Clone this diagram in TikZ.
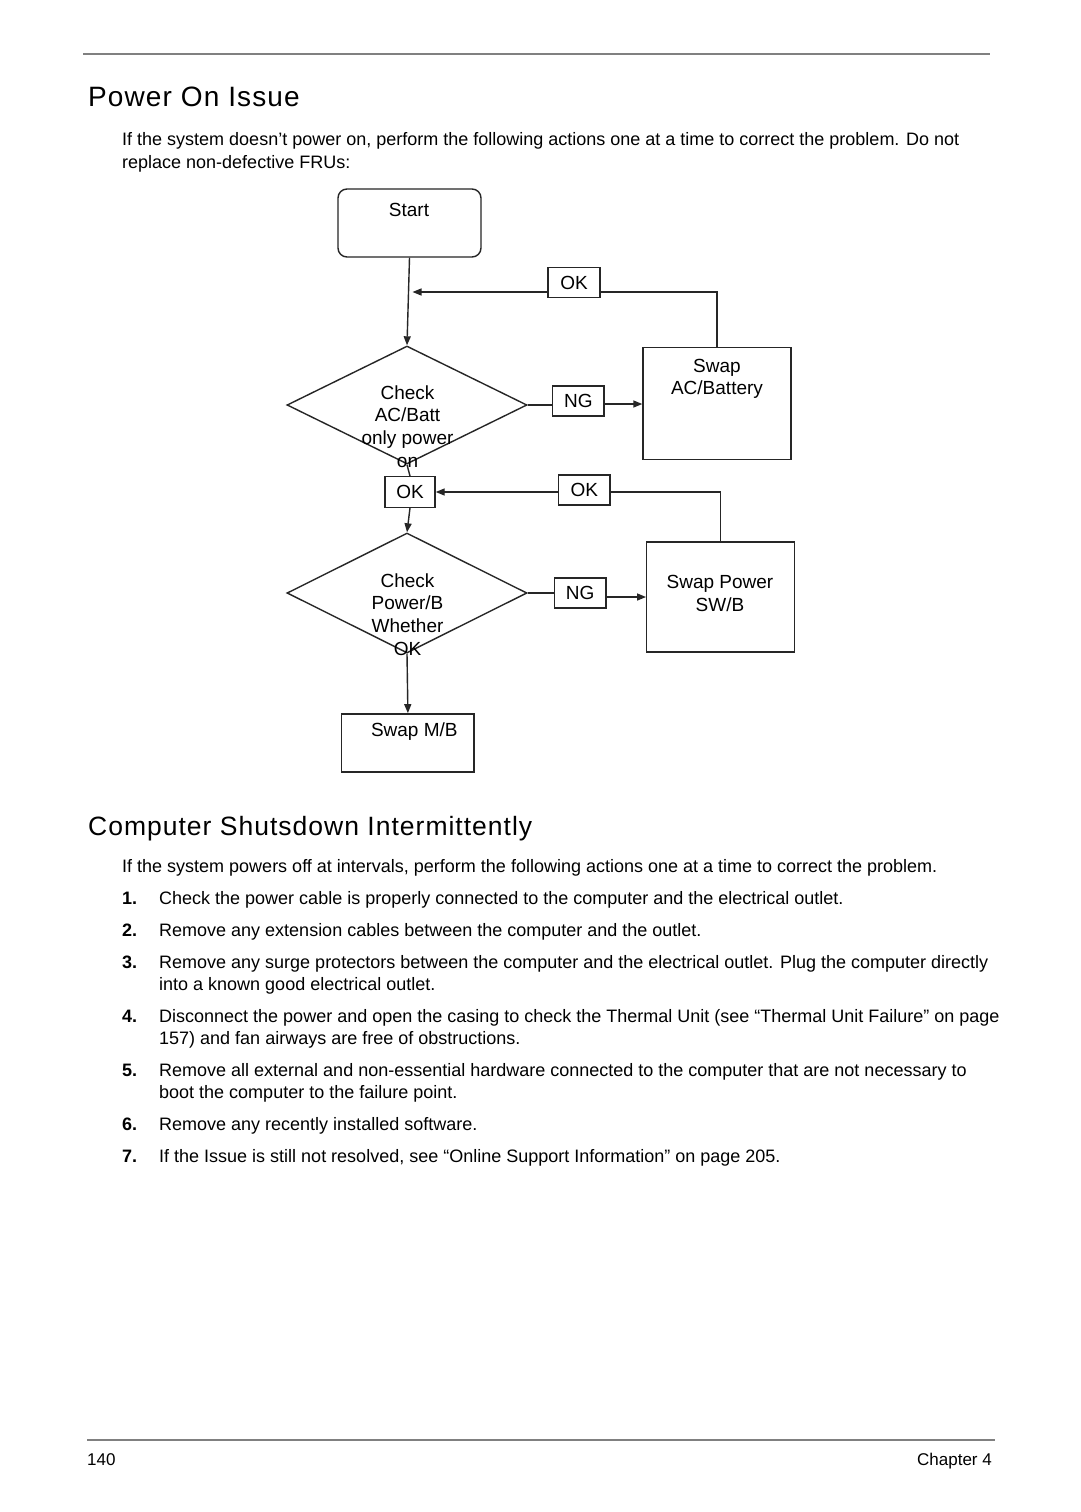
\documentclass[tikz,border=0pt]{standalone}
\usepackage{fontspec}
\setmainfont{Liberation Sans}
\newfontfamily\titlefont[LetterSpace=4]{Liberation Sans}
\newfontfamily\headfont[LetterSpace=3.8]{Liberation Sans}
\usetikzlibrary{shapes.geometric,arrows.meta,calc}
\tikzset{
  fcline/.style={line width=1.4pt, draw=black!85},
  fcbox/.style={draw=black!85, line width=1.4pt, inner sep=0pt, rectangle,
                font=\fontsize{19}{22.7}\selectfont},
  fcdia/.style={draw=black!85, line width=1.4pt, inner sep=0pt, diamond, aspect=2},
  fctext/.style={inner sep=0pt, anchor=north, align=center, font=\fontsize{19}{22.7}\selectfont},
  arr/.style={fcline, -{Triangle[length=9pt,width=7pt]}},
  body/.style={anchor=base west, inner sep=0pt, font=\fontsize{18}{21}\selectfont},
  num/.style={anchor=base west, inner sep=0pt, font=\fontsize{18}{21}\selectfont\bfseries},
  rule/.style={draw=black!50, line width=2pt}
}
\begin{document}
\begin{tikzpicture}[x=1pt,y=-1pt]
\useasboundingbox[fill=white] (0,0) rectangle (1080,1512);

% header
\draw[rule] (83,54) -- (990,54);
\node[anchor=base west, inner sep=0pt] (title) at (88,106.7)
  {\titlefont\fontsize{28}{30}\selectfont Power On Issue};
\node[body] (p1a) at (122,145) {If the system doesn’t power on, perform the following actions one at a time to correct the problem. Do not};
\node[body] (p1b) at (122,168) {replace non-defective FRUs:};

% flowchart nodes
\node[fcbox, rounded corners=9pt, minimum width=143pt, minimum height=68pt] (start) at (409.5,223) {};
\node[inner sep=0pt, anchor=base, font=\fontsize{19}{22.7}\selectfont] (startt) at (409,216) {Start};

\node[fcbox, minimum width=52pt, minimum height=30pt] (ok1) at (574,282.5) {OK};

\node[fcdia, minimum width=240pt, minimum height=118pt] (d1) at (407,405) {};
\node[fctext] (d1t) at (407.5,385.3) {Check\\AC/Batt\\only power\\on};

\node[fcbox, minimum width=51.5pt, minimum height=30pt] (ng1) at (578.3,401) {NG};

\node[fcbox, minimum width=148pt, minimum height=111.5pt] (swapac) at (717,403.5) {};
\node[fctext] (swapact) at (717,358.8) {Swap\\AC/Battery};

\node[fcbox, minimum width=50pt, minimum height=30.5pt] (ok2) at (410,492) {OK};
\node[fcbox, minimum width=51.5pt, minimum height=30pt] (ok3) at (584.3,490) {OK};

\node[fcdia, minimum width=240pt, minimum height=120pt] (d2) at (407,593) {};
\node[fctext] (d2t) at (407.5,573.1) {Check\\Power/B\\Whether\\OK};

\node[fcbox, minimum width=51.7pt, minimum height=30pt] (ng2) at (580.2,593) {NG};

\node[fcbox, minimum width=147.5pt, minimum height=110.3pt] (swappw) at (720.5,597) {};
\node[fctext] (swappwt) at (720,575.4) {Swap Power\\SW/B};

\node[fcbox, minimum width=132.3pt, minimum height=58.3pt] (swapmb) at (407.9,743) {};
\node[inner sep=0pt, anchor=base, font=\fontsize{19}{22.7}\selectfont] (swapmbt) at (414.3,736.8) {Swap M/B};

\coordinate (a1) at (412.5,292);

% connectors
\draw[arr] (start.south) -- (d1.north);
\draw[fcline] (swapac.north) |- (ok1.east |- 0,292);
\draw[arr] (ok1.west |- 0,292) -- (a1);
\draw[fcline] (d1.east) -- (d1.east -| ng1.west);
\draw[arr] (ng1.east |- 0,404) -- (swapac.west |- 0,404);
\draw[fcline] (d1.south) -- (ok2.north);
\draw[fcline] (swappw.north) |- (ok3.east |- 0,492);
\draw[arr] (ok3.west |- 0,492) -- (ok2.east |- 0,492);
\draw[arr] (ok2.south) -- (d2.north);
\draw[fcline] (d2.east) -- (d2.east -| ng2.west);
\draw[arr] (ng2.east |- 0,597) -- (swappw.west |- 0,597);
\draw[arr] (d2.south) -- (swapmb.north);

% second section
\node[anchor=base west, inner sep=0pt] (head2) at (88,835.7)
  {\headfont\fontsize{26.5}{28}\selectfont Computer Shutsdown Intermittently};
\node[body] (p2) at (122,872) {If the system powers off at intervals, perform the following actions one at a time to correct the problem.};

\node[num] (n1) at (122,904) {1.};
\node[body] (t1) at (159,904) {Check the power cable is properly connected to the computer and the electrical outlet.};
\node[num] (n2) at (122,936) {2.};
\node[body] (t2) at (159,936) {Remove any extension cables between the computer and the outlet.};
\node[num] (n3) at (122,968) {3.};
\node[body] (t3a) at (159,968) {Remove any surge protectors between the computer and the electrical outlet. Plug the computer directly};
\node[body] (t3b) at (159,990) {into a known good electrical outlet.};
\node[num] (n4) at (122,1022) {4.};
\node[body] (t4a) at (159,1022) {Disconnect the power and open the casing to check the Thermal Unit (see “Thermal Unit Failure” on page};
\node[body] (t4b) at (159,1044) {157) and fan airways are free of obstructions.};
\node[num] (n5) at (122,1076) {5.};
\node[body] (t5a) at (159,1076) {Remove all external and non-essential hardware connected to the computer that are not necessary to};
\node[body] (t5b) at (159,1098) {boot the computer to the failure point.};
\node[num] (n6) at (122,1130) {6.};
\node[body] (t6) at (159,1130) {Remove any recently installed software.};
\node[num] (n7) at (122,1162) {7.};
\node[body] (t7) at (159,1162) {If the Issue is still not resolved, see “Online Support Information” on page 205.};

% footer
\draw[rule] (87,1440) -- (995,1440);
\node[anchor=base west, inner sep=0pt, font=\fontsize{17}{20}\selectfont] (pg) at (87,1465) {140};
\node[anchor=base east, inner sep=0pt, font=\fontsize{17}{20}\selectfont] (chap) at (992,1465) {Chapter 4};
\end{tikzpicture}
\end{document}
